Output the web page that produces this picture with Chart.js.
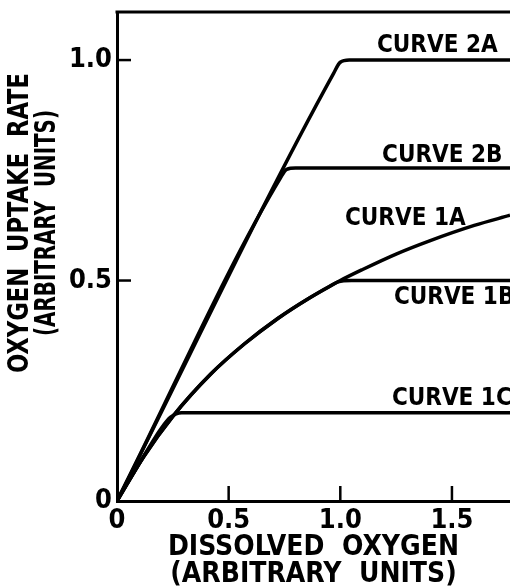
<!DOCTYPE html>
<html>
<head>
<meta charset="utf-8">
<script src="https://cdn.jsdelivr.net/npm/chart.js@4.4.0/dist/chart.umd.min.js"></script>
<style>
  html, body { margin: 0; padding: 0; background: #fff; }
</style>
</head>
<body>
<canvas id="oxygenChart" width="510" height="588"></canvas>
<script>
// values (arbitrary units)
const curve2A_x = [0, 0.97, 1.0, 1.04, 1.76];
const curve2A_y = [0, 0.97, 0.995, 1.0, 1.0];

const curve2B_x = [0, 0.735, 0.76, 0.80, 1.76];
const curve2B_y = [0, 0.735, 0.752, 0.755, 0.755];

const curve1A_x = [0, 0.12, 0.25, 0.42, 0.57, 0.72, 0.86, 1.0, 1.1, 1.25, 1.4, 1.6, 1.76];
const curve1A_y = [0, 0.101, 0.192, 0.288, 0.356, 0.414, 0.46, 0.5, 0.525, 0.56, 0.59, 0.625, 0.648];

const curve1B_x = [0, 0.12, 0.25, 0.42, 0.57, 0.72, 0.86, 0.95, 0.99, 1.05, 1.76];
const curve1B_y = [0, 0.101, 0.192, 0.288, 0.356, 0.414, 0.46, 0.486, 0.497, 0.5, 0.5];

const curve1C_x = [0, 0.12, 0.2, 0.24, 0.29, 1.76];
const curve1C_y = [0, 0.102, 0.166, 0.19, 0.2, 0.2];

const curveNames = ['CURVE 2A', 'CURVE 2B', 'CURVE 1A', 'CURVE 1B', 'CURVE 1C'];

const xTicks = [0, 0.5, 1.0, 1.5];
const yTicks = [0, 0.5, 1.0];
const xLabel = ['DISSOLVED  OXYGEN', '(ARBITRARY  UNITS)'];
const yLabel = ['OXYGEN  UPTAKE  RATE', '(ARBITRARY  UNITS)'];

// where the curve names sit (data units, left/baseline)
const labelSpots = [
  { x: 1.164, y: 1.018 },
  { x: 1.187, y: 0.769 },
  { x: 1.021, y: 0.626 },
  { x: 1.240, y: 0.447 },
  { x: 1.231, y: 0.218 }
];

const FONT = "'DejaVu Sans Condensed', 'DejaVu Sans', sans-serif";

function toPoints(xs, ys) {
  return xs.map((v, i) => ({ x: v, y: ys[i] }));
}

function makeSet(label, xs, ys) {
  return {
    label: label,
    data: toPoints(xs, ys),
    borderColor: '#000',
    borderWidth: 3.5,
    pointRadius: 0,
    fill: false,
    cubicInterpolationMode: 'monotone'
  };
}

const datasets = [
  makeSet(curveNames[0], curve2A_x, curve2A_y),
  makeSet(curveNames[1], curve2B_x, curve2B_y),
  makeSet(curveNames[2], curve1A_x, curve1A_y),
  makeSet(curveNames[3], curve1B_x, curve1B_y),
  makeSet(curveNames[4], curve1C_x, curve1C_y)
];

// inward tick marks, top frame line, y title, curve names
const decorations = {
  id: 'decorations',
  afterDatasetsDraw(chart) {
    const { ctx, chartArea } = chart;
    const x = chart.scales.x, y = chart.scales.y;
    ctx.save();
    ctx.strokeStyle = '#000';
    ctx.lineCap = 'butt';

    ctx.lineWidth = 2.5;
    xTicks.forEach(v => {
      if (v === 0) return;
      const px = x.getPixelForValue(v);
      ctx.beginPath();
      ctx.moveTo(px, chartArea.bottom);
      ctx.lineTo(px, chartArea.bottom - 15);
      ctx.stroke();
    });
    yTicks.forEach(v => {
      if (v === 0) return;
      const py = y.getPixelForValue(v);
      ctx.beginPath();
      ctx.moveTo(chartArea.left, py);
      ctx.lineTo(chartArea.left + 14, py);
      ctx.stroke();
    });

    // top frame
    ctx.lineWidth = 3;
    ctx.beginPath();
    ctx.moveTo(chartArea.left - 1.5, chartArea.top);
    ctx.lineTo(chartArea.right, chartArea.top);
    ctx.stroke();

    // curve names
    ctx.fillStyle = '#000';
    ctx.font = 'bold 24px ' + FONT;
    ctx.textAlign = 'left';
    ctx.textBaseline = 'alphabetic';
    curveNames.forEach((name, i) => {
      const s = labelSpots[i];
      ctx.fillText(name, x.getPixelForValue(s.x), y.getPixelForValue(s.y));
    });

    // y axis title, two rotated lines
    ctx.translate(0, 223);
    ctx.rotate(-Math.PI / 2);
    ctx.font = 'bold 28px ' + FONT;
    ctx.textAlign = 'center';
    ctx.textBaseline = 'middle';
    ctx.fillText(yLabel[0], 0, 21, 300);
    ctx.fillText(yLabel[1], 0, 48, 226);
    ctx.restore();
  }
};

const config = {
  type: 'line',
  data: { datasets: datasets },
  options: {
    responsive: false,
    animation: false,
    layout: { padding: { top: 12, right: 0, left: 0, bottom: 0 } },
    plugins: {
      legend: { display: false },
      tooltip: { enabled: false }
    },
    scales: {
      x: {
        type: 'linear',
        min: 0,
        max: 1.76,
        afterBuildTicks: s => { s.ticks = xTicks.map(v => ({ value: v })); },
        afterFit: s => { s.height = 87; s.paddingLeft = 0; s.paddingRight = 0; },
        grid: { display: false, drawTicks: false },
        border: { display: true, color: '#000', width: 3 },
        ticks: {
          color: '#000',
          padding: 4,
          maxRotation: 0,
          font: { family: FONT, size: 27, weight: 'bold' },
          callback: v => (v === 0 ? '0' : v.toFixed(1))
        },
        title: {
          display: true,
          text: xLabel,
          color: '#000',
          font: { family: FONT, size: 28, weight: 'bold', lineHeight: 0.95 },
          padding: { top: 0, bottom: 0 }
        }
      },
      y: {
        type: 'linear',
        min: 0,
        max: 1.109,
        afterBuildTicks: s => { s.ticks = yTicks.map(v => ({ value: v })); },
        afterFit: s => { s.width = 117; s.paddingTop = 0; s.paddingBottom = 0; },
        grid: { display: false, drawTicks: false },
        border: { display: true, color: '#000', width: 3 },
        ticks: {
          color: '#000',
          padding: 5,
          font: { family: FONT, size: 27, weight: 'bold' },
          callback: v => (v === 0 ? '0' : v.toFixed(1))
        }
      }
    }
  },
  plugins: [decorations]
};

const oxygenChart = new Chart(document.getElementById('oxygenChart'), config);
</script>
</body>
</html>
